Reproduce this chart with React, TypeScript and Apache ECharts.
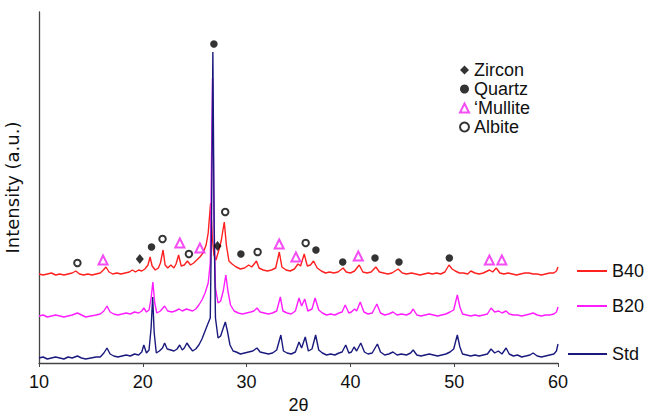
import React, { useEffect, useRef } from "react";
import * as echarts from "echarts";

// 2θ tick labels
const xTicks = [10, 20, 30, 40, 50, 60];

// XRD patterns [2θ, intensity (a.u., offset stacked)]
const stdData: number[][] = [
  [10,5],[10.4,6],[10.8,4],[11.2,5],[11.6,6],[12,5],[12.4,4],[12.8,6],[13.2,5],[13.7,7],[14.1,5],[14.5,4],[15,5],[15.5,6],[15.9,6],[16.25,10],[16.55,15],[16.85,9],[17.2,7],[17.6,6],[18,7],[18.4,8],[18.8,7],[19.2,9],[19.6,8],[19.9,11],[20.1,18],[20.35,10],[20.6,13],[20.8,35],[20.95,66],[21.1,30],[21.3,10],[21.6,12],[21.9,15],[22.1,20],[22.35,14],[22.7,13],[23.0,12],[23.3,14],[23.55,18],[23.8,13],[24.0,15],[24.25,20],[24.5,16],[24.8,12],[25.1,14],[25.4,18],[25.7,24],[26.0,32],[26.3,40],[26.5,45],[26.62,140],[26.75,311],[26.88,130],[27.0,45],[27.25,25],[27.5,27],[27.75,35],[27.95,41],[28.15,32],[28.4,18],[28.7,12],[29.0,11],[29.4,9],[29.8,10],[30.2,11],[30.6,12],[31.0,15],[31.3,11],[31.7,10],[32.1,9],[32.5,10],[32.9,13],[33.3,28],[33.55,12],[33.9,10],[34.3,9],[34.7,11],[35.05,21],[35.3,15],[35.65,26],[35.95,12],[36.3,14],[36.65,28],[36.95,13],[37.3,10],[37.7,8],[38.1,9],[38.5,8],[38.9,10],[39.2,11],[39.55,18],[39.85,10],[40.1,11],[40.35,16],[40.6,12],[41.0,20],[41.35,11],[41.7,9],[42.1,10],[42.6,19],[42.9,11],[43.3,8],[43.7,9],[44.1,11],[44.5,8],[44.9,9],[45.4,8],[45.8,10],[46.05,13],[46.4,8],[46.8,7],[47.2,8],[47.6,9],[48.0,8],[48.4,7],[48.8,8],[49.2,9],[49.6,11],[49.95,14],[50.3,28],[50.55,16],[50.8,9],[51.2,8],[51.6,7],[52.0,8],[52.4,7],[52.8,8],[53.2,9],[53.55,14],[53.9,10],[54.25,12],[54.6,9],[55.0,15],[55.3,9],[55.7,7],[56.1,8],[56.5,6],[56.9,7],[57.3,8],[57.6,10],[58.0,7],[58.4,6],[58.8,7],[59.2,8],[59.6,9],[59.85,12],[60,19]
];

const b20Data: number[][] = [
  [10,47],[10.4,48],[10.8,46],[11.2,47],[11.6,48],[12,47],[12.4,46],[12.8,47],[13.2,48],[13.7,50],[14.1,48],[14.5,46],[15,47],[15.5,48],[15.9,49],[16.25,52],[16.55,57],[16.85,51],[17.2,49],[17.6,48],[18,49],[18.4,50],[18.8,49],[19.2,51],[19.6,50],[19.9,52],[20.1,55],[20.35,51],[20.6,53],[20.8,65],[20.97,81],[21.15,60],[21.35,50],[21.7,52],[22.1,57],[22.4,52],[22.8,51],[23.1,52],[23.5,54],[23.8,52],[24.2,54],[24.5,53],[24.8,52],[25.1,54],[25.4,58],[25.7,63],[26.0,70],[26.3,80],[26.5,100],[26.62,200],[26.72,285],[26.85,150],[27.0,75],[27.25,60],[27.5,62],[27.75,72],[28.0,88],[28.2,72],[28.45,58],[28.8,52],[29.2,50],[29.6,49],[30.0,50],[30.4,51],[30.7,52],[31.0,55],[31.3,51],[31.7,50],[32.1,49],[32.5,50],[32.9,52],[33.25,66],[33.5,52],[33.9,50],[34.3,49],[34.7,52],[35.05,65],[35.3,57],[35.6,64],[35.9,52],[36.3,54],[36.6,65],[36.95,53],[37.3,50],[37.7,48],[38.1,49],[38.5,48],[38.9,50],[39.2,51],[39.5,58],[39.85,50],[40.1,51],[40.4,54],[40.6,52],[40.95,61],[41.3,51],[41.7,49],[42.1,50],[42.55,59],[42.9,50],[43.3,48],[43.7,49],[44.1,51],[44.5,48],[44.9,49],[45.4,48],[45.8,50],[46.05,54],[46.4,48],[46.8,47],[47.2,48],[47.6,49],[48.0,48],[48.4,47],[48.8,48],[49.2,49],[49.6,51],[49.95,53],[50.3,68],[50.55,56],[50.8,49],[51.2,48],[51.6,47],[52.0,48],[52.4,47],[52.8,48],[53.2,49],[53.55,55],[53.9,51],[54.3,52],[54.6,50],[55.0,52],[55.3,49],[55.7,48],[56.1,48],[56.5,47],[56.9,48],[57.3,49],[57.6,50],[58.0,48],[58.4,47],[58.8,48],[59.2,48],[59.6,49],[59.85,51],[60,56]
];

const b40Data: number[][] = [
  [10,89],[10.4,88],[10.8,89],[11.2,90],[11.6,88],[12,89],[12.4,88],[12.8,89],[13.2,90],[13.55,92],[13.9,89],[14.3,88],[14.7,89],[15.1,88],[15.5,89],[15.9,90],[16.2,93],[16.45,96],[16.75,91],[17.1,89],[17.5,90],[17.9,89],[18.3,90],[18.7,91],[19.0,93],[19.3,91],[19.6,93],[19.9,92],[20.2,94],[20.5,98],[20.7,106],[20.9,97],[21.2,93],[21.5,95],[21.7,100],[21.95,113],[22.15,98],[22.4,95],[22.7,98],[23.0,95],[23.2,99],[23.45,108],[23.7,97],[24.0,98],[24.3,102],[24.6,98],[24.9,100],[25.2,103],[25.5,106],[25.8,110],[26.1,118],[26.3,130],[26.53,160],[26.7,125],[26.85,108],[27.05,103],[27.3,112],[27.55,122],[27.85,141],[28.05,118],[28.3,102],[28.6,99],[29.0,96],[29.4,94],[29.8,95],[30.2,98],[30.5,96],[30.95,102],[31.2,95],[31.6,93],[32.0,92],[32.4,93],[32.8,95],[33.15,111],[33.4,96],[33.8,93],[34.2,92],[34.6,94],[34.95,99],[35.2,97],[35.55,109],[35.85,97],[36.15,98],[36.45,102],[36.8,95],[37.2,92],[37.6,90],[38.0,91],[38.4,90],[38.8,91],[39.3,95],[39.6,91],[40.0,90],[40.4,92],[40.85,98],[41.2,91],[41.6,90],[42.0,91],[42.45,96],[42.8,91],[43.2,90],[43.6,89],[44.0,90],[44.6,94],[45.0,90],[45.4,89],[45.9,90],[46.3,89],[46.7,88],[47.1,89],[47.5,90],[47.9,89],[48.3,90],[48.7,89],[49.1,91],[49.5,98],[49.8,94],[50.1,92],[50.5,90],[50.9,90],[51.3,89],[51.6,92],[52.0,90],[52.4,89],[52.8,90],[53.4,93],[53.7,91],[54.05,95],[54.4,90],[54.8,89],[55.2,90],[55.6,89],[56.0,88],[56.4,89],[56.8,90],[57.2,90],[57.6,89],[58.0,89],[58.4,88],[58.8,89],[59.2,90],[59.6,90],[59.85,92],[60,96]
];

// Phase markers [2θ, intensity]
const zirconMarks: number[][] = [[19.71,104],[27.2,117]];
const quartzMarks: number[][] = [[20.84,116],[26.85,319],[29.45,109],[36.68,113],[39.26,101],[42.37,105],[44.68,101],[49.53,105]];
const mulliteMarks: number[][] = [[16.17,103],[23.57,120],[25.5,115],[33.14,119],[34.75,106],[40.76,107],[53.39,103],[54.59,103]];
const albiteMarks: number[][] = [[13.7,100],[21.9,124],[24.44,109],[27.94,151],[31.06,111],[35.69,120]];

const FONT = "'Liberation Sans', Arial, Helvetica, sans-serif";
const TXT = "#111";

export default function App() {
  const ref = useRef<HTMLDivElement>(null);
  useEffect(() => {
    if (!ref.current) return;
    const chart = echarts.init(ref.current, undefined, { renderer: "svg" });
    const legendText = { fontSize: 18, color: TXT, fontFamily: FONT };
    const option: any = {
      animation: false,
      backgroundColor: "#fff",
      textStyle: { fontFamily: FONT },
      grid: { left: 39, right: 88, top: 12, bottom: 51, containLabel: false, outerBoundsMode: "none" },
      xAxis: {
        type: "value",
        min: 10,
        max: 60,
        interval: 10,
        name: "2θ",
        nameLocation: "middle",
        nameGap: 32,
        nameTextStyle: { fontSize: 18, color: TXT, fontFamily: FONT },
        axisLine: { lineStyle: { color: "#444", width: 1.3 } },
        axisTick: { show: true, length: 4, lineStyle: { color: "#444" } },
        axisLabel: {
          fontSize: 18,
          color: TXT,
          margin: 10,
          formatter: (v: number) => (xTicks.includes(v) ? String(v) : ""),
        },
        splitLine: { show: false },
      },
      yAxis: {
        type: "value",
        min: 0,
        max: 351,
        name: "Intensity (a.u.)",
        nameLocation: "middle",
        nameGap: 18,
        nameTextStyle: { fontSize: 18, color: TXT, fontFamily: "'DejaVu Sans', sans-serif" },
        axisLine: { show: true, lineStyle: { color: "#444", width: 1.3 } },
        axisTick: { show: false },
        axisLabel: { show: false },
        splitLine: { show: false },
      },
      legend: [
        {
          data: [
            { name: "Zircon", icon: "diamond" },
            { name: "Quartz", icon: "circle" },
            { name: "‘Mullite", icon: "emptyTriangle" },
            { name: "Albite", icon: "emptyCircle" },
          ],
          orient: "vertical",
          left: 459,
          top: 61,
          padding: 0,
          itemWidth: 9,
          itemHeight: 9,
          itemGap: 1,
          selectedMode: false,
          textStyle: legendText,
        },
        { data: ["B40"], left: 577, top: 262, padding: 0, icon: "rect", itemWidth: 30, itemHeight: 2, selectedMode: false, textStyle: legendText },
        { data: ["B20"], left: 577, top: 297, padding: 0, icon: "rect", itemWidth: 30, itemHeight: 2, selectedMode: false, textStyle: legendText },
        { data: ["Std"], left: 568, top: 345, padding: 0, icon: "rect", itemWidth: 39, itemHeight: 2, selectedMode: false, textStyle: legendText },
      ],
      series: [
        { name: "B40", type: "line", data: b40Data, showSymbol: false, lineStyle: { color: "#ff2020", width: 1.4 }, itemStyle: { color: "#ff2020" }, z: 2 },
        { name: "B20", type: "line", data: b20Data, showSymbol: false, lineStyle: { color: "#ff1eff", width: 1.4 }, itemStyle: { color: "#ff1eff" }, z: 3 },
        { name: "Std", type: "line", data: stdData, showSymbol: false, lineStyle: { color: "#1a1a7e", width: 1.4 }, itemStyle: { color: "#1a1a7e" }, z: 4 },
        { name: "Zircon", type: "scatter", data: zirconMarks, symbol: "diamond", symbolSize: [8, 10], itemStyle: { color: "#000" }, z: 5 },
        { name: "Quartz", type: "scatter", data: quartzMarks, symbol: "circle", symbolSize: 7.5, itemStyle: { color: "#000" }, z: 5 },
        { name: "‘Mullite", type: "scatter", data: mulliteMarks, symbol: "emptyTriangle", symbolSize: [9, 9], itemStyle: { color: "#f020f0", borderColor: "#f020f0", borderWidth: 1.1 }, z: 5 },
        { name: "Albite", type: "scatter", data: albiteMarks, symbol: "emptyCircle", symbolSize: 6.5, itemStyle: { color: "#000", borderColor: "#000", borderWidth: 1.1 }, z: 5 },
      ],
    };
    chart.setOption(option);
    return () => chart.dispose();
  }, []);
  return (
    <div
      ref={ref}
      style={{ position: "fixed", left: 0, top: 0, width: 646, height: 414, background: "#fff" }}
    />
  );
}
